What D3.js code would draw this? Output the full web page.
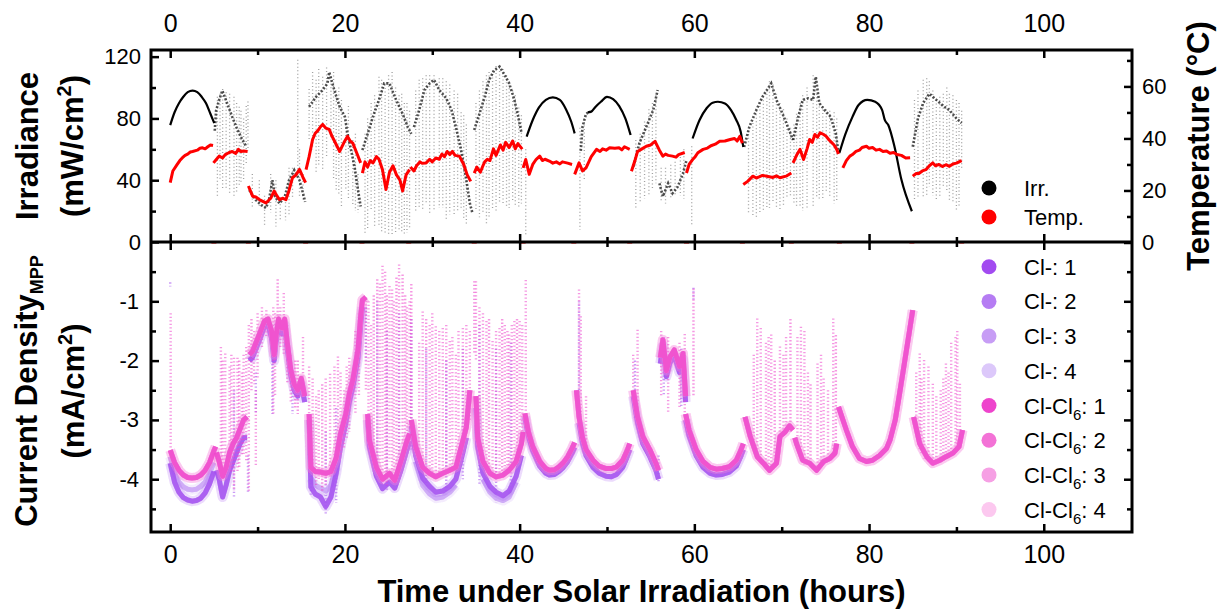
<!DOCTYPE html>
<html><head><meta charset="utf-8">
<script src="https://cdn.jsdelivr.net/npm/d3@7"></script>
<style>
body{margin:0;background:#fff;}
svg{display:block;font-family:"Liberation Sans",Arial,Helvetica,sans-serif;}
</style></head><body>
<svg id="chart" width="1225" height="611"></svg>
<script>
// ---- axis ticks ----
const xTicks = [0, 20, 40, 60, 80, 100];
const xMinor = [10, 30, 50, 70, 90];
const irrTicks = [0, 40, 80, 120];
const irrMinor = [20, 60, 100];
const tempTicks = [0, 20, 40, 60];
const tempMinor = [10, 30, 50, 70];
const jTicks = [-1, -2, -3, -4];
const jMinor = [-0.5, -1.5, -2.5, -3.5, -4.5];

// ---- irradiance (mW/cm2): clear-sky days, [hour, value] ----
const irrSmooth = [
  [[0,75.7],[0.5,84],[1.0,89.8],[1.5,94],[2.0,97],[2.56,98],[3.1,97],[3.6,94],[4.1,89.8],[4.6,83],[5.04,77]],
  [[40.8,68.2],[41.5,79],[42.2,87],[43.0,92],[43.8,93.6],[44.6,92],[45.3,86],[45.9,78],[46.3,70.3]],
  [[47.8,84],[48.2,84.4],[48.7,87.6],[49.3,90.8],[50.0,94],[50.7,92.5],[51.4,88],[52.1,80],[52.7,69.3]],
  [[59.8,67],[60.6,79],[61.4,86.6],[62.1,90.2],[62.7,90.8],[63.5,89.7],[64.2,85.4],[64.8,79],[65.3,71.5],[65.6,61.5]],
  [[76.6,57.6],[77.3,70],[78.1,81],[78.8,88.7],[79.8,92],[80.7,90.8],[81.5,85.4],[81.8,79],[82.2,75.7],[82.9,62],[83.7,40.4],[84.9,19.9]]
];
// cloudy days: densest trace, [hour, value]
const irrCore = [
  [[5.1,72],[5.25,85],[5.6,92],[5.97,98],[6.5,90],[7.1,81],[7.6,74],[8.1,68],[8.67,62]],
  [[9.05,33.6],[9.8,27.2],[10.4,24],[10.96,22],[11.3,27],[11.7,40],[12.0,29.5],[12.5,25],[13.1,29],[13.6,40],[14.2,46.5],[14.8,40],[15.2,31.5],[15.45,26]],
  [[15.9,87.6],[16.7,94],[17.45,98.4],[18.0,102.7],[18.2,110],[18.8,98],[19.4,87.6],[20.0,81],[20.3,70],[20.7,59.5],[21.1,48.7],[21.5,33.6],[21.8,23]],
  [[22.0,59.5],[22.6,70],[23.2,81],[23.9,92],[24.5,102.7],[25.1,102.7],[25.7,94],[26.6,83],[27.2,74.4],[27.6,70]],
  [[27.9,74.4],[28.5,85.5],[29.1,98.4],[29.7,102.7],[30.2,105],[30.8,98.4],[31.6,93],[32.2,85.5],[32.7,74.4],[33.3,59.5],[33.9,40],[34.3,25],[34.6,18.7]],
  [[34.8,72.5],[35.4,83],[36.0,94],[36.5,104.9],[37.1,111.3],[37.7,113.5],[38.3,108],[38.8,102.7],[39.4,92],[39.8,82],[40.2,71]],
  [[47.0,59],[47.2,74.6],[47.6,83],[47.9,84]],
  [[53.0,48.7],[53.7,63.8],[54.5,74.6],[55.3,85.5],[55.8,98.4]],
  [[56.0,38],[56.4,29.5],[57.0,38],[57.5,31.5],[58.1,35.8],[58.7,44.4],[59.1,53]],
  [[65.7,61.5],[66.3,74.6],[67.1,85.5],[67.8,94],[68.8,102.7],[69.4,92],[70.1,83],[70.7,74.6],[71.3,66]],
  [[71.3,66],[71.9,81],[72.4,92],[73.0,93],[73.6,92],[73.9,107],[74.3,90],[74.9,85.5],[75.6,81],[76.2,70],[76.5,57.6]],
  [[85.0,61.7],[85.6,80],[86.2,90],[86.9,96],[87.7,92],[88.5,88],[89.2,85.4],[90.0,80],[90.6,77]]
];
// scattered readings on cloudy days: [hour, high, low]
const irrScatter = [
  [5.4,94,29.5],[5.7,96,40],[6.0,99,33.6],[6.4,97,35],[6.8,96,31.5],[7.3,94,29.5],[7.6,90,32],[7.9,87.6,36],[8.1,85,38],[8.4,80,40],[8.7,88,50],[8.9,91,59],
  [9.4,44,23],[10.2,40,23],[10.8,30,10],[11.5,44,19],[12.1,40,10],[12.6,29,14],[13.2,28,14],[13.6,48,18],[14.0,48,28],[14.6,118,44],[14.8,60,29],[15.2,44,26],
  [15.9,99,66],[16.3,110,60],[16.7,105,44],[17.0,112,50],[17.45,107,47],[17.9,113,55],[18.4,107,66],[18.7,110,40],[19.0,98,33],[19.3,100,30],[19.6,92,23],[20.1,76,33],[20.4,88,28],[20.9,66,23],[21.2,70,20],[21.5,44,19],
  [22.3,70,5],[22.6,80,8],[23.0,90,20],[23.4,95,10],[23.9,107,10],[24.2,105,6],[24.6,102,5],[25.0,108,5],[25.4,110,5],[25.8,100,6],[26.2,95,8],[26.5,96,6],[26.8,90,5],[27.1,90,6],[27.4,85,8],
  [28.1,98,20],[28.5,105,22],[28.9,106,20],[29.3,108,25],[29.7,108,18],[30.2,108,20],[30.8,106,22],[31.2,106,22],[31.6,104,15],[32.0,102,18],[32.5,98,18],[32.9,96,20],[33.3,84,22],[33.6,82,15],[33.9,76,12],
  [35.0,90,20],[35.4,98,16],[35.8,104,18],[36.2,108,12],[36.5,110,15],[36.9,111,22],[37.3,114,20],[37.7,113,26],[38.1,112,24],[38.5,108,22],[38.8,104,22],[39.2,98,26],[39.5,95,24],[39.9,87,22],[40.2,82,25],
  [40.7,60,4],[46.9,74,8],[47.4,80,40],
  [53.3,66,22],[53.8,70,25],[54.3,78,28],[54.8,86,30],[55.2,90,35],[55.6,95,38],[56.2,48,26],[56.7,48,25],[57.3,50,28],[57.8,52,30],[58.4,55,30],[58.8,60,28],[59.7,62,10],
  [66.2,72,18],[66.7,77,16],[67.1,85,16],[67.5,88,18],[67.9,94,20],[68.3,98,22],[68.6,104,22],[69.0,102,25],[69.4,96,22],[69.8,90,20],[70.2,86,24],[70.6,80,28],[71.0,74,30],
  [71.4,76,24],[71.7,83,22],[72.1,90,22],[72.4,95,20],[72.9,100,22],[73.6,108,22],[74.0,96,28],[74.3,90,28],[74.7,88,28],[75.1,86,32],[75.5,85,30],[76.0,84,25],[76.3,80,26],
  [85.2,92,27],[85.6,98,28],[86.2,105,29],[86.6,106,30],[86.9,104,36],[87.3,98,30],[87.7,92,27],[88.1,94,30],[88.5,96,36],[88.9,100,32],[89.2,96,27],[89.6,95,25],[90.0,92,20],[90.3,90,22],[90.6,85,48]
];

// ---- module temperature (°C), [hour, value] ----
const tempDays = [
  [[0,23],[0.3,27.5],[0.8,30],[1.1,31.5],[1.4,32.6],[1.7,33.5],[2.0,34],[2.3,34.8],[2.56,35],[3.1,35.5],[3.4,36.2],[3.7,36.4],[4.0,36],[4.3,36.8],[4.6,37.5],[4.9,37.3]],
  [[4.95,30.6],[5.3,32],[5.6,33.2],[6.0,32.5],[6.3,33.8],[6.7,34.5],[7.1,35],[7.5,34.2],[7.8,35.8],[8.1,35],[8.4,35.2],[8.86,35]],
  [[8.95,21.7],[9.43,17.8],[9.8,17.5],[10.2,16.5],[10.6,15.8],[10.96,15.2],[11.5,17],[11.9,19.8],[12.2,18],[12.5,16.5],[12.9,17],[13.25,16.5],[13.6,20],[14.0,24.9],[14.4,26],[14.8,28.1],[15.2,25],[15.5,23]],
  [[15.55,28],[15.9,33],[16.3,39.6],[16.6,42],[16.9,43],[17.2,44.5],[17.45,45.4],[17.8,44],[18.2,43.5],[18.5,41],[18.8,39],[19.1,37],[19.4,35],[19.9,38.5],[20.3,40.8],[20.6,39],[20.9,38.2],[21.4,34],[21.8,30.6]],
  [[22.0,26.7],[22.3,31],[22.6,29],[22.9,31.5],[23.2,30.6],[23.6,33],[23.9,32],[24.3,28],[24.7,20.4],[25.1,27],[25.5,29.5],[25.9,26],[26.3,24],[26.6,19.8],[27.0,26],[27.4,28]],
  [[27.5,29],[27.9,27.5],[28.2,29.5],[28.6,31],[28.8,30.5],[29.3,30.6],[29.7,32],[30.0,31],[30.4,32.5],[30.8,32],[31.1,34],[31.4,33],[31.7,35],[32.0,33.8],[32.3,35],[32.6,33.5],[33.1,33.2],[33.6,30],[34.0,26],[34.4,23.5]],
  [[34.8,26.7],[35.1,29],[35.5,27],[35.8,29.5],[36.0,31],[36.3,32],[36.6,31.5],[37.0,36],[37.3,33.5],[37.8,37.5],[38.1,35.5],[38.4,38.5],[38.8,36.5],[39.2,39],[39.5,36],[39.8,38],[40.3,35.9]],
  [[40.4,28.7],[40.7,31.9],[41.1,26.2],[41.5,30],[41.9,32],[42.3,33.2],[42.6,31.5],[42.9,32],[43.4,31.3],[43.8,30.5],[44.2,31],[44.6,30.2],[44.9,31],[45.5,30.5],[46.0,30]],
  [[46.3,26.2],[46.8,30.6],[47.2,27.5],[47.6,28.7],[48.2,33],[48.8,35.8],[49.2,35],[49.5,36],[49.9,35.5],[50.3,36.4],[50.9,36.2],[51.4,36.4],[51.7,35.6],[52.0,36.8],[52.6,35.8]],
  [[52.8,27.4],[53.2,31.5],[53.5,35],[54.0,36],[54.5,37],[55.0,37.5],[55.5,38.9],[56.0,35.5],[56.4,33.2],[56.7,34],[57.0,33.5],[57.5,33.2],[57.9,32.8],[58.2,33.8],[58.9,34.6]],
  [[59.1,26.7],[59.4,30],[59.8,31.9],[60.1,33],[60.4,34.5],[61.0,35.8],[61.5,36.3],[61.9,37.2],[62.4,37.8],[62.9,38.9],[63.5,39],[64.1,39.6],[64.6,40],[64.9,39],[65.2,40.8],[65.5,38.2]],
  [[65.6,22.3],[66.1,23.5],[66.7,25.5],[67.1,24.8],[67.4,25.2],[67.8,25.8],[68.3,25.5],[69.0,25],[69.4,25.6],[69.8,24.9],[70.5,25.5],[71.1,26.7]],
  [[71.3,30.6],[71.7,33.5],[72.1,35.8],[72.5,31.9],[72.9,36],[73.2,39.6],[73.5,38.5],[73.8,41.5],[74.1,40.5],[74.4,42.2],[74.8,41.5],[75.1,40.8],[75.4,39.5],[75.7,38.5],[76.0,37.5],[76.3,35.8],[76.5,34]],
  [[77.0,28.7],[77.4,31.5],[77.8,33.2],[78.1,33.8],[78.5,35],[78.9,35.5],[79.2,36.5],[79.7,37],[80.0,36.2],[80.4,36.5],[80.8,35.5],[81.2,35.8],[81.6,35],[82.0,35.2],[82.4,34.3],[82.8,34.6],[83.2,33.8],[83.7,33.5],[84.2,32.5],[84.7,32.6]],
  [[85.0,25.5],[85.4,26.5],[85.7,26.5],[86.1,27.5],[86.5,28],[86.9,29.5],[87.3,30.6],[87.6,29.5],[88.0,30],[88.4,29.2],[88.8,29.9],[89.2,29.3],[89.6,30.2],[90.0,30.5],[90.4,31.2],[90.6,31.5]]
];
// sensor readings of 0 °C at day switch-over
const tempZeros = [5.0, 8.95, 15.5, 21.95, 27.3, 34.8, 40.4, 46.2, 52.6, 59.1, 65.5, 71.1, 76.6, 84.9, 90.6];

// ---- current density at MPP (mA/cm2), [hour, value] ----
const clDeep = [
  [[0,-3.73],[0.5,-4.05],[1,-4.22],[1.5,-4.31],[2,-4.35],[2.5,-4.37],[3,-4.36],[3.5,-4.32],[4,-4.23],[4.5,-4.08],[5,-3.87]],
  [[5.3,-3.85],[5.6,-4.0],[6.0,-4.3],[6.4,-4.1],[6.8,-3.85],[7.2,-3.7],[7.6,-3.55],[8.0,-3.4],[8.4,-3.3],[8.8,-3.3]],
  [[9.05,-2.0],[9.4,-1.95],[10.2,-1.66],[10.8,-1.42],[11.2,-1.4],[11.6,-1.62],[11.9,-2.0],[12.1,-1.7],[12.4,-1.4],[12.8,-1.55],[13.1,-1.4],[13.4,-1.8],[13.8,-2.25],[14.2,-2.5],[14.6,-2.6],[15.0,-2.4],[15.4,-2.7]],
  [[15.9,-3.0],[16.1,-4.13],[16.6,-4.25],[17.2,-4.3],[17.8,-4.46],[18.4,-4.3],[19.0,-3.9],[19.5,-3.45],[20.1,-3.05],[20.5,-2.7],[20.9,-2.45],[21.5,-1.95],[21.8,-1.4],[22.0,-1.1]],
  [[22.6,-3.0],[22.8,-3.45],[23.6,-3.95],[24.3,-4.16],[25.1,-4.05],[25.7,-4.15],[26.4,-3.85],[27.0,-3.55],[27.4,-3.35]],
  [[27.6,-3.1],[28.1,-3.6],[28.9,-3.98],[29.7,-4.12],[30.4,-4.22],[31.2,-4.2],[32.0,-4.12],[32.7,-4.0],[33.5,-3.55],[33.9,-3.3]],
  [[35.0,-2.8],[35.2,-3.45],[35.8,-3.9],[36.6,-4.12],[37.3,-4.22],[38.1,-4.28],[38.8,-4.2],[39.6,-3.95],[40.2,-3.6]],
  [[40.6,-2.95],[41.0,-3.28],[41.5,-3.52],[42.3,-3.78],[43.0,-3.9],[43.4,-3.93],[44.0,-3.92],[44.5,-3.87],[45.0,-3.8],[45.5,-3.7],[46.0,-3.56],[46.3,-3.46]],
  [[46.8,-3.05],[47.2,-3.4],[47.6,-3.6],[48.4,-3.8],[49.1,-3.9],[49.9,-3.95],[50.5,-3.96],[51.1,-3.92],[51.8,-3.8],[52.3,-3.62],[52.6,-3.5]],
  [[53.0,-2.6],[53.5,-3.05],[54.1,-3.4],[54.9,-3.62],[55.6,-3.85],[55.9,-4.0]],
  [[56.1,-2.05],[56.4,-1.75],[56.8,-2.27],[57.2,-2.04],[57.7,-1.92],[58.3,-2.2],[58.7,-1.98],[59.0,-2.7]],
  [[59.0,-3.0],[59.4,-3.27],[60.2,-3.6],[61.0,-3.8],[61.8,-3.9],[62.5,-3.93],[63.2,-3.92],[64.0,-3.88],[64.8,-3.78],[65.3,-3.62],[65.6,-3.5]]
];
const clPale = [
  [[0,-3.62],[0.5,-3.9],[1,-4.05],[1.5,-4.13],[2,-4.17],[2.5,-4.18],[3,-4.17],[3.5,-4.12],[4,-4.05],[4.5,-3.9],[5,-3.72]],
  [[16.1,-3.98],[16.6,-4.1],[17.2,-4.15],[17.8,-4.2],[18.4,-4.1],[19.0,-3.8]],
  [[28.1,-3.7],[28.9,-4.1],[29.7,-4.25],[30.4,-4.32],[31.2,-4.3],[32.0,-4.22],[32.7,-4.1]],
  [[35.8,-4.0],[36.6,-4.22],[37.3,-4.32],[38.1,-4.36],[38.8,-4.3],[39.6,-4.05]]
];
const cl6Core = [
  [[0,-3.51],[0.5,-3.72],[1,-3.85],[1.5,-3.93],[2,-3.97],[2.5,-3.98],[3,-3.97],[3.5,-3.93],[4,-3.85],[4.5,-3.72],[5,-3.52],[5.2,-3.45]],
  [[5.3,-3.55],[5.6,-3.7],[6.0,-3.95],[6.4,-3.8],[6.8,-3.55],[7.2,-3.4],[7.6,-3.3],[8.0,-3.15],[8.4,-3.0],[8.8,-2.95]],
  [[9.05,-1.9],[9.4,-1.85],[10.2,-1.56],[10.8,-1.33],[11.2,-1.3],[11.6,-1.5],[11.9,-1.9],[12.1,-1.6],[12.4,-1.3],[12.8,-1.45],[13.1,-1.3],[13.4,-1.7],[13.8,-2.15],[14.2,-2.4],[14.6,-2.5],[15.0,-2.3],[15.4,-2.6]],
  [[15.9,-2.9],[16.1,-3.8],[16.6,-3.87],[17.2,-3.88],[17.8,-3.9],[18.4,-3.87],[19.0,-3.64],[19.5,-3.23],[20.1,-2.9],[20.5,-2.56],[20.9,-2.33],[21.5,-1.81],[21.8,-1.26],[22.0,-0.98],[22.4,-0.93]],
  [[22.6,-2.9],[22.8,-3.34],[23.6,-3.8],[24.3,-4.0],[25.1,-3.9],[25.7,-4.02],[26.4,-3.7],[27.0,-3.4],[27.4,-3.23]],
  [[27.6,-3.0],[28.1,-3.45],[28.9,-3.8],[29.7,-3.9],[30.4,-3.96],[31.2,-3.9],[32.0,-3.85],[32.7,-3.8],[33.5,-3.35],[33.9,-3.12],[34.3,-2.5]],
  [[35.0,-2.6],[35.2,-3.3],[35.8,-3.7],[36.6,-3.9],[37.3,-3.96],[38.1,-3.93],[38.8,-3.85],[39.6,-3.7],[40.2,-3.4],[40.4,-3.2]],
  [[40.6,-2.89],[41.0,-3.2],[41.5,-3.45],[42.3,-3.7],[43.0,-3.82],[43.4,-3.85],[44.0,-3.84],[44.5,-3.79],[45.0,-3.72],[45.5,-3.62],[46.0,-3.48],[46.3,-3.38]],
  [[46.5,-2.5],[46.8,-2.95],[47.2,-3.3],[47.6,-3.5],[48.4,-3.68],[49.1,-3.78],[49.9,-3.82],[50.5,-3.82],[51.1,-3.79],[51.8,-3.68],[52.3,-3.52],[52.6,-3.4]],
  [[53.0,-2.5],[53.5,-2.95],[54.1,-3.28],[54.9,-3.5],[55.6,-3.73],[55.9,-3.85]],
  [[56.1,-1.95],[56.4,-1.65],[56.8,-2.17],[57.2,-1.94],[57.7,-1.82],[58.3,-2.1],[58.7,-1.88],[59.0,-2.6]],
  [[59.0,-2.9],[59.4,-3.17],[60.2,-3.5],[61.0,-3.7],[61.8,-3.8],[62.5,-3.83],[63.2,-3.82],[64.0,-3.79],[64.8,-3.68],[65.3,-3.52],[65.6,-3.4]],
  [[65.8,-2.95],[66.4,-3.28],[67.2,-3.62],[67.9,-3.73],[68.6,-3.85],[69.4,-3.73],[69.8,-3.28],[70.4,-3.2],[70.9,-3.1],[71.3,-3.17]],
  [[71.5,-3.3],[71.7,-3.4],[72.4,-3.68],[73.2,-3.73],[74.0,-3.85],[74.8,-3.7],[75.5,-3.65],[76.1,-3.56],[76.3,-3.4]],
  [[76.5,-2.78],[77.4,-3.17],[78.1,-3.45],[78.9,-3.65],[79.7,-3.7],[80.4,-3.68],[81.2,-3.6],[82.0,-3.48],[82.4,-3.34],[83.0,-3.0],[83.5,-2.55],[84.1,-1.99],[84.7,-1.43],[85.0,-1.15]],
  [[85.1,-2.95],[85.8,-3.4],[86.6,-3.62],[87.3,-3.73],[88.1,-3.68],[88.8,-3.62],[89.6,-3.56],[90.3,-3.45],[90.7,-3.17]]
];
// scattered readings under passing clouds: [hour, top, bottom]
const clScatter = [
  [0.0,-0.68,-0.75],[7.3,-2.5,-4.3],[8.9,-3.6,-4.25],[9.8,-2.2,-2.9],[11.7,-2.0,-2.9],[14.0,-2.3,-2.9],
  [16.1,-3.0,-4.3],[17.8,-3.2,-4.6],[19.0,-2.8,-4.4],[22.4,-1.1,-2.0],[23.7,-1.0,-4.0],[24.8,-1.5,-4.2],
  [26.2,-1.2,-4.0],[27.6,-1.3,-3.5],[29.3,-1.8,-4.2],[31.6,-2.0,-4.3],[33.5,-1.8,-4.0],[35.4,-1.4,-4.1],
  [37.3,-1.8,-4.4],[39.0,-1.7,-4.3],[46.8,-1.0,-3.0],[53.2,-2.0,-3.0],[55.9,-3.6,-4.05],[56.5,-1.6,-2.6],[58.5,-1.8,-2.8],[59.9,-0.77,-1.0]
];
const cl6Scatter = [
  [0.05,-1.2,-3.5],
  [5.8,-1.77,-3.9],[6.0,-2.0,-4.0],[6.3,-1.88,-4.0],[6.8,-2.1,-3.8],[7.0,-1.9,-3.9],[7.3,-1.95,-4.2],[7.7,-1.95,-3.9],[7.9,-2.0,-3.8],[8.2,-2.2,-3.6],[8.4,-1.9,-3.6],[8.7,-1.77,-3.7],[9.0,-1.4,-4.2],[9.8,-2.5,-3.8],
  [9.3,-1.3,-2.5],[9.6,-1.5,-2.4],[10.0,-1.2,-2.3],[10.5,-1.1,-1.8],[11.0,-1.15,-1.6],[11.8,-1.1,-2.9],[12.0,-1.2,-2.6],[12.3,-0.63,-1.6],[12.6,-1.1,-1.8],[13.0,-0.86,-1.9],[13.4,-1.4,-2.4],[13.8,-1.9,-2.7],[14.3,-2.0,-2.8],[14.6,-2.0,-2.9],[15.2,-1.6,-2.4],
  [15.9,-2.1,-3.9],[16.3,-2.3,-3.9],[16.7,-2.6,-4.1],[17.0,-2.5,-4.0],[17.4,-2.4,-4.2],[17.8,-2.3,-4.1],[18.3,-2.22,-4.0],[18.8,-2.1,-3.9],[19.2,-1.93,-3.7],[19.5,-2.2,-3.6],[19.9,-2.5,-3.5],[20.2,-2.1,-3.3],[20.5,-1.95,-3.2],[21.2,-1.5,-2.9],[21.6,-1.2,-2.6],
  [22.4,-0.93,-2.5],[22.7,-1.0,-3.0],[23.0,-1.4,-3.5],[23.3,-0.9,-3.6],[23.7,-0.63,-3.8],[24.0,-0.7,-3.9],[24.3,-0.4,-3.9],[24.6,-0.5,-4.0],[24.8,-0.9,-4.1],[25.1,-0.74,-3.7],[25.4,-0.8,-4.0],[25.6,-1.0,-3.9],[25.9,-0.6,-3.8],[26.2,-0.38,-3.6],[26.6,-0.55,-3.4],[26.9,-0.9,-3.4],[27.1,-1.1,-3.2],[27.4,-1.0,-3.2],[27.6,-0.71,-3.0],
  [28.5,-1.7,-3.6],[28.9,-1.17,-3.8],[29.3,-1.3,-3.9],[29.7,-1.4,-3.9],[30.0,-1.2,-3.9],[30.4,-1.42,-3.95],[30.8,-1.5,-3.95],[31.2,-1.45,-3.9],[31.6,-1.4,-3.9],[32.0,-1.67,-3.85],[32.3,-1.6,-3.85],[32.7,-1.9,-3.8],[33.0,-1.5,-3.7],[33.5,-1.45,-3.4],[33.9,-1.4,-3.2],[34.3,-1.5,-3.0],
  [34.8,-0.66,-1.9],[35.0,-0.66,-2.0],[35.4,-1.1,-3.6],[35.8,-1.2,-3.8],[36.2,-1.33,-3.9],[36.5,-1.3,-3.9],[36.9,-1.67,-3.95],[37.3,-1.5,-3.95],[37.7,-1.45,-3.95],[38.0,-1.3,-3.9],[38.3,-1.4,-3.9],[38.6,-1.5,-3.9],[38.8,-1.56,-3.85],[39.1,-1.4,-3.8],[39.4,-1.33,-3.7],[39.7,-1.3,-3.6],[40.0,-1.33,-3.4],[40.3,-1.4,-3.3],
  [40.7,-0.64,-2.89],[46.8,-0.8,-2.95],[47.0,-1.25,-3.2],[47.6,-2.6,-3.5],
  [53.0,-1.9,-2.5],[53.5,-1.48,-2.95],[56.2,-1.5,-2.6],[57.0,-1.6,-2.9],[58.3,-1.7,-2.8],[58.9,-1.55,-2.9],[59.9,-0.79,-2.6],
  [66.8,-1.9,-3.5],[67.2,-1.29,-3.6],[67.6,-1.45,-3.7],[68.2,-1.7,-3.8],[68.5,-1.6,-3.8],[68.8,-1.56,-3.85],[69.2,-2.0,-3.7],[69.8,-1.76,-3.4],[70.2,-1.9,-3.2],[70.5,-1.6,-3.2],[71.0,-1.3,-3.2],
  [71.8,-1.6,-3.5],[72.2,-1.43,-3.7],[72.6,-1.5,-3.75],[73.0,-2.2,-3.75],[73.3,-2.4,-3.8],[74.1,-2.05,-3.85],[74.5,-1.9,-3.8],[74.8,-2.3,-3.7],[75.3,-2.5,-3.7],[75.9,-1.29,-3.6],[76.2,-1.57,-3.5],
  [85.4,-2.2,-3.2],[85.8,-1.88,-3.5],[86.0,-2.3,-3.6],[86.3,-1.99,-3.65],[86.8,-2.1,-3.7],[87.3,-2.39,-3.75],[87.7,-2.6,-3.7],[88.2,-2.5,-3.7],[88.5,-2.3,-3.7],[88.8,-2.05,-3.7],[89.1,-2.2,-3.6],[89.4,-1.7,-3.6],[89.9,-1.6,-3.55],[90.1,-1.5,-3.5],[90.4,-2.39,-3.5]
];

// ---- series and legend ----
const seriesNames = ["Cl-: 1", "Cl-: 2", "Cl-: 3", "Cl-: 4", "Cl-Cl6: 1", "Cl-Cl6: 2", "Cl-Cl6: 3", "Cl-Cl6: 4"];
const seriesColors = ["#a24bf0", "#b57cf3", "#c79df5", "#dcc8fa", "#ee44cc", "#f372d6", "#f6a0e4", "#fcc8ef"];
const seriesData = [clDeep, clDeep, clPale, clPale, cl6Core, cl6Core, cl6Core, cl6Core];
const topLegend = [["Irr.", "#000000"], ["Temp.", "#ff0000"]];

// ---- layout ----
const L = 151, R = 1132, T = 50, MID = 242, B = 532;
const svg = d3.select("#chart");
const x = d3.scaleLinear().domain([-2.2, 110.1]).range([L, R]);
const yIrr = d3.scaleLinear().domain([0, 124.3]).range([MID, T]);
const yTemp = d3.scaleLinear().domain([0, 74]).range([MID + 0.5, T]);
const yJ = d3.scaleLinear().domain([-4.89, 0]).range([B, MID]);

const defs = svg.append("defs");
defs.append("clipPath").attr("id", "clipTop").append("rect")
  .attr("x", L).attr("y", T).attr("width", R - L).attr("height", MID - T);
defs.append("clipPath").attr("id", "clipBot").append("rect")
  .attr("x", L).attr("y", MID).attr("width", R - L).attr("height", B - MID);

// ---- upper panel: irradiance + temperature ----
const gTop = svg.append("g").attr("clip-path", "url(#clipTop)");
gTop.selectAll("line.irrScatter").data(irrScatter).join("line")
  .attr("class", "irrScatter")
  .attr("x1", d => x(d[0])).attr("x2", d => x(d[0]))
  .attr("y1", d => yIrr(d[1])).attr("y2", d => yIrr(d[2]))
  .attr("stroke", "#7a7a7a").attr("stroke-width", 1.3)
  .attr("stroke-dasharray", "1 2.5").attr("opacity", 0.7);

const irrLine = d3.line().x(d => x(d[0])).y(d => yIrr(d[1])).curve(d3.curveMonotoneX);
const irrLineRaw = d3.line().x(d => x(d[0])).y(d => yIrr(d[1]));
gTop.selectAll("path.irrCore").data(irrCore).join("path")
  .attr("class", "irrCore").attr("d", irrLineRaw)
  .attr("fill", "none").attr("stroke", "#222").attr("stroke-width", 2.6)
  .attr("stroke-dasharray", "2 1.8").attr("opacity", 0.8);
gTop.selectAll("path.irrSmooth").data(irrSmooth).join("path")
  .attr("class", "irrSmooth").attr("d", irrLine)
  .attr("fill", "none").attr("stroke", "#000").attr("stroke-width", 2.2);

const tempLine = d3.line().x(d => x(d[0])).y(d => yTemp(d[1]));
gTop.selectAll("path.temp").data(tempDays).join("path")
  .attr("class", "temp").attr("d", tempLine)
  .attr("fill", "none").attr("stroke", "#ff0000").attr("stroke-width", 3)
  .attr("stroke-linejoin", "round");
svg.selectAll("rect.tempZero").data(tempZeros).join("rect")
  .attr("class", "tempZero")
  .attr("x", d => x(d) - 2.5).attr("y", yTemp(0) - 1.5)
  .attr("width", 5).attr("height", 2.5).attr("fill", "#ff0000");

// ---- lower panel: current density ----
const gBot = svg.append("g").attr("clip-path", "url(#clipBot)");
const jLine = d3.line().x(d => x(d[0])).y(d => yJ(d[1]));
function scatterCols(data, color, cls) {
  gBot.selectAll("line." + cls).data(data).join("line")
    .attr("class", cls)
    .attr("x1", d => x(d[0])).attr("x2", d => x(d[0]))
    .attr("y1", d => yJ(d[1])).attr("y2", d => yJ(d[2]))
    .attr("stroke", color).attr("stroke-width", 2.4)
    .attr("stroke-dasharray", "1.3 2.2").attr("opacity", 0.55);
}
function drawSeries(i) {
  const g = gBot.append("g").attr("class", "series-" + i);
  g.selectAll("path.halo").data(seriesData[i]).join("path")
    .attr("class", "halo").attr("d", jLine)
    .attr("fill", "none").attr("stroke", seriesColors[i]).attr("stroke-width", 10)
    .attr("stroke-linejoin", "round").attr("opacity", 0.12);
  g.selectAll("path.core").data(seriesData[i]).join("path")
    .attr("class", "core").attr("d", jLine)
    .attr("fill", "none").attr("stroke", seriesColors[i]).attr("stroke-width", 5)
    .attr("stroke-linejoin", "round").attr("opacity", 0.7);
}
scatterCols(clScatter, seriesColors[0], "clScatter");
[3, 2, 1, 0].forEach(drawSeries);
scatterCols(cl6Scatter, seriesColors[4], "cl6Scatter");
[7, 6, 5, 4].forEach(drawSeries);

// ---- axes ----
const fmt = d => String(d);
function styleAxis(g, size) {
  g.select(".domain").remove();
  g.selectAll(".tick line").attr("stroke", "#000").attr("stroke-width", 2.5);
  g.selectAll(".tick text").attr("fill", "#000").attr("font-size", size)
    .attr("font-family", "'Liberation Sans', Arial, sans-serif");
}
// bottom
styleAxis(svg.append("g").attr("transform", `translate(0,${B})`)
  .call(d3.axisBottom(x).tickValues(xTicks).tickFormat(fmt).tickSizeInner(-8).tickSizeOuter(0).tickPadding(13)), 25);
styleAxis(svg.append("g").attr("transform", `translate(0,${B})`)
  .call(d3.axisBottom(x).tickValues(xMinor).tickFormat("").tickSizeInner(-5).tickSizeOuter(0)), 0);
// top
styleAxis(svg.append("g").attr("transform", `translate(0,${T})`)
  .call(d3.axisTop(x).tickValues(xTicks).tickFormat(fmt).tickSizeInner(-8).tickSizeOuter(0).tickPadding(18)), 25);
styleAxis(svg.append("g").attr("transform", `translate(0,${T})`)
  .call(d3.axisTop(x).tickValues(xMinor).tickFormat("").tickSizeInner(-5).tickSizeOuter(0)), 0);
// divider, ticks on both sides
[[xTicks, 8], [xMinor, 5]].forEach(([vals, s]) => {
  styleAxis(svg.append("g").attr("transform", `translate(0,${MID})`)
    .call(d3.axisBottom(x).tickValues(vals).tickFormat("").tickSizeInner(s).tickSizeOuter(0)), 0);
  styleAxis(svg.append("g").attr("transform", `translate(0,${MID})`)
    .call(d3.axisTop(x).tickValues(vals).tickFormat("").tickSizeInner(s).tickSizeOuter(0)), 0);
});
// irradiance (left, upper)
styleAxis(svg.append("g").attr("transform", `translate(${L},0)`)
  .call(d3.axisLeft(yIrr).tickValues(irrTicks).tickFormat(fmt).tickSizeInner(-8).tickSizeOuter(0).tickPadding(10)), 22);
styleAxis(svg.append("g").attr("transform", `translate(${L},0)`)
  .call(d3.axisLeft(yIrr).tickValues(irrMinor).tickFormat("").tickSizeInner(-5).tickSizeOuter(0)), 0);
// temperature (right, upper)
styleAxis(svg.append("g").attr("transform", `translate(${R},0)`)
  .call(d3.axisRight(yTemp).tickValues(tempTicks).tickFormat(fmt).tickSizeInner(-8).tickSizeOuter(0).tickPadding(10)), 22);
styleAxis(svg.append("g").attr("transform", `translate(${R},0)`)
  .call(d3.axisRight(yTemp).tickValues(tempMinor).tickFormat("").tickSizeInner(-5).tickSizeOuter(0)), 0);
// current density (left and right, lower)
styleAxis(svg.append("g").attr("transform", `translate(${L},0)`)
  .call(d3.axisLeft(yJ).tickValues(jTicks).tickFormat(fmt).tickSizeInner(-8).tickSizeOuter(0).tickPadding(12)), 22);
styleAxis(svg.append("g").attr("transform", `translate(${L},0)`)
  .call(d3.axisLeft(yJ).tickValues(jMinor).tickFormat("").tickSizeInner(-5).tickSizeOuter(0)), 0);
styleAxis(svg.append("g").attr("transform", `translate(${R},0)`)
  .call(d3.axisRight(yJ).tickValues(jTicks).tickFormat("").tickSizeInner(-8).tickSizeOuter(0)), 0);
styleAxis(svg.append("g").attr("transform", `translate(${R},0)`)
  .call(d3.axisRight(yJ).tickValues(jMinor).tickFormat("").tickSizeInner(-5).tickSizeOuter(0)), 0);

// frame
svg.append("rect").attr("x", L).attr("y", T).attr("width", R - L).attr("height", B - T)
  .attr("fill", "none").attr("stroke", "#000").attr("stroke-width", 3);
svg.append("line").attr("x1", L).attr("x2", R).attr("y1", MID).attr("y2", MID)
  .attr("stroke", "#000").attr("stroke-width", 3);

// ---- legends ----
const legTop = svg.append("g");
topLegend.forEach(([label, color], i) => {
  const cy = 188 + i * 29;
  legTop.append("circle").attr("cx", 989).attr("cy", cy).attr("r", 7.5).attr("fill", color);
  legTop.append("text").attr("x", 1024).attr("y", cy + 8).attr("font-size", 22).text(label);
});
const legBot = svg.append("g");
seriesNames.forEach((name, i) => {
  const cy = 266.7 + i * 34.7;
  legBot.append("circle").attr("cx", 989).attr("cy", cy).attr("r", 7.5).attr("fill", seriesColors[i]);
  const t = legBot.append("text").attr("x", 1024).attr("y", cy + 8).attr("font-size", 22);
  const m = name.match(/^(Cl-Cl)6(: \d)$/);
  if (m) {
    t.append("tspan").text(m[1]);
    t.append("tspan").attr("font-size", 15).attr("dy", 6).text("6");
    t.append("tspan").attr("dy", -6).text(m[2]);
  } else {
    t.text(name);
  }
});

// ---- axis titles ----
const bold = sel => sel.attr("font-weight", "bold").attr("font-size", 31).attr("text-anchor", "middle");
bold(svg.append("text").attr("transform", "translate(38,146) rotate(-90)")).text("Irradiance");
const t2 = bold(svg.append("text").attr("transform", "translate(83,146) rotate(-90)"));
t2.append("tspan").text("(mW/cm");
t2.append("tspan").attr("font-size", 20).attr("dy", -12).text("2");
t2.append("tspan").attr("dy", 12).text(")");

const t3 = bold(svg.append("text").attr("transform", "translate(37,391) rotate(-90)"));
t3.append("tspan").text("Current Density");
t3.append("tspan").attr("font-size", 18).attr("dy", 6).text("MPP");
const t4 = bold(svg.append("text").attr("transform", "translate(84,391) rotate(-90)"));
t4.append("tspan").text("(mA/cm");
t4.append("tspan").attr("font-size", 20).attr("dy", -12).text("2");
t4.append("tspan").attr("dy", 12).text(")");

bold(svg.append("text").attr("transform", "translate(1209,146) rotate(-90)")).text("Temperature (°C)");
bold(svg.append("text").attr("x", (L + R) / 2).attr("y", 602)).text("Time under Solar Irradiation (hours)");
</script></body></html>
